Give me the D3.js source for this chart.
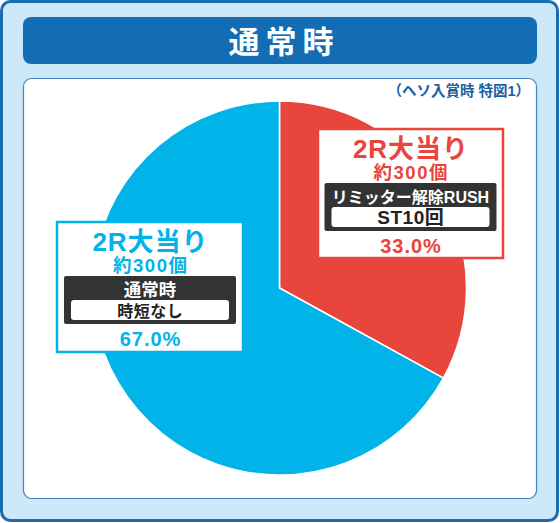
<!DOCTYPE html>
<html>
<head>
<meta charset="utf-8">
<script src="https://cdn.jsdelivr.net/npm/d3@7"></script>
<style>
  html, body { margin: 0; padding: 0; background: #fff; }
  svg { display: block; }
  text { font-family: "Liberation Sans", "Noto Sans CJK JP", sans-serif; font-weight: 700; }
</style>
</head>
<body>
<script>
// chart data
var title = "通常時";
var subtitle = "（ヘソ入賞時 特図1）";
var categories = ["2R大当り", "2R大当り"];
var values = [33.0, 67.0];
var payouts = ["約300個", "約300個"];
var modes = ["リミッター解除RUSH", "通常時"];
var modeDetails = ["ST10回", "時短なし"];
var colors = ["#e8453c", "#00b3e8"];

function drawChart() {
    var width = 560;
    var height = 523;
    var cx = 279.5;
    var cy = 288;
    var radius = 187;

    var svg = d3.select("body")
                .append("svg")
                .attr("width", width)
                .attr("height", height);

    // outer frame
    svg.append("rect")
        .attr("x", 1.5).attr("y", 1.5)
        .attr("width", width - 4).attr("height", height - 4)
        .attr("rx", 9)
        .attr("fill", "#cde8f8")
        .attr("stroke", "#1a6db5")
        .attr("stroke-width", 3);

    // title bar
    svg.append("rect")
        .attr("x", 23).attr("y", 17)
        .attr("width", 514).attr("height", 47)
        .attr("rx", 8)
        .attr("fill", "#136db5");

    svg.append("text")
        .attr("x", 284).attr("y", 42)
        .attr("text-anchor", "middle")
        .attr("dominant-baseline", "central")
        .attr("fill", "#fff")
        .style("font-size", "31px")
        .style("letter-spacing", "6px")
        .text(title);

    // inner panel
    svg.append("rect")
        .attr("x", 23.5).attr("y", 78.5)
        .attr("width", 513).attr("height", 420)
        .attr("rx", 8)
        .attr("fill", "#fff")
        .attr("stroke", "#4a7fc0")
        .attr("stroke-width", 1.2);

    svg.append("text")
        .attr("x", 530).attr("y", 91)
        .attr("text-anchor", "end")
        .attr("dominant-baseline", "central")
        .attr("fill", "#1a5fa8")
        .style("font-size", "14.5px")
        .text(subtitle);

    // pie
    var pie = d3.pie().sort(null).value(function(d) { return d; });
    var arc = d3.arc().innerRadius(0).outerRadius(radius);

    var g = svg.append("g")
               .attr("transform", "translate(" + cx + "," + cy + ")");

    g.selectAll("path")
        .data(pie(values))
        .enter()
        .append("path")
        .attr("d", arc)
        .attr("fill", function(d, i) { return colors[i]; })
        .attr("stroke", "#fff")
        .attr("stroke-width", 1.5);

    // label boxes
    var boxes = [
        { x: 318, y: 129, w: 185, h: 129, modeSize: 16, detailSize: 19 },
        { x: 57, y: 222, w: 186, h: 130, modeSize: 17.5, detailSize: 16 }
    ];

    function addText(parent, x, y, size, spacing, fill, str) {
        return parent.append("text")
            .attr("x", x + spacing / 2).attr("y", y)
            .attr("text-anchor", "middle")
            .attr("fill", fill)
            .style("font-size", size + "px")
            .style("letter-spacing", spacing + "px")
            .text(str);
    }

    boxes.forEach(function(b, i) {
        var mid = b.x + b.w / 2;
        var lg = svg.append("g");

        lg.append("rect")
            .attr("x", b.x).attr("y", b.y)
            .attr("width", b.w).attr("height", b.h)
            .attr("fill", "#fff")
            .attr("stroke", colors[i])
            .attr("stroke-width", 2.5);

        addText(lg, mid, b.y + 29, 26, 1, colors[i], categories[i]);
        addText(lg, mid, b.y + 50, 18.5, 1.5, colors[i], payouts[i]);

        lg.append("rect")
            .attr("x", mid - 86).attr("y", b.y + 54)
            .attr("width", 172).attr("height", 48)
            .attr("rx", 2)
            .attr("fill", "#333");

        addText(lg, mid, b.y + 74, b.modeSize, 0, "#fff", modes[i]);

        lg.append("rect")
            .attr("x", mid - 79).attr("y", b.y + 78)
            .attr("width", 158).attr("height", 20)
            .attr("rx", 3)
            .attr("fill", "#fff");

        addText(lg, mid, b.y + 95, b.detailSize, 0.5, "#222", modeDetails[i]);
        addText(lg, mid, b.y + 124, 20, 1, colors[i], values[i].toFixed(1) + "%");
    });
}

window.onload = function() {
    drawChart();
};
</script>
</body>
</html>
